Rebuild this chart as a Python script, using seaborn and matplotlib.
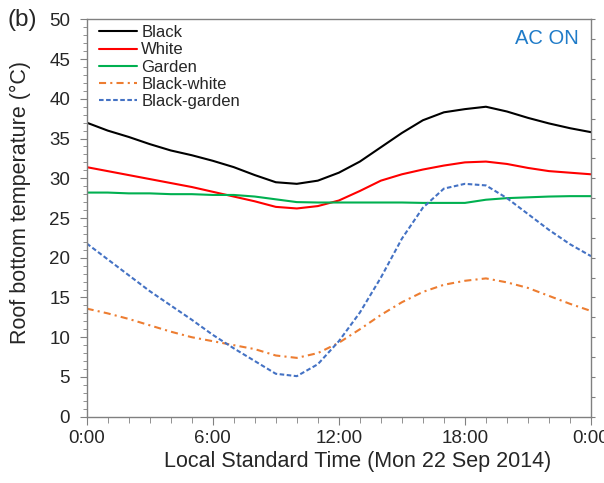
import seaborn as sns
import matplotlib.pyplot as plt
from matplotlib.ticker import MultipleLocator
import pandas as pd

# hours of the day (Mon 22 Sep 2014)
hours = list(range(0, 25))

black = [37.0, 36.0, 35.2, 34.3, 33.5, 32.9, 32.2, 31.4, 30.4, 29.5, 29.3, 29.7, 30.7,
         32.1, 33.9, 35.7, 37.3, 38.3, 38.7, 39.0, 38.4, 37.6, 36.9, 36.3, 35.8]
white = [31.4, 30.9, 30.4, 29.9, 29.4, 28.9, 28.3, 27.7, 27.1, 26.4, 26.2, 26.5, 27.2,
         28.4, 29.7, 30.5, 31.1, 31.6, 32.0, 32.1, 31.8, 31.3, 30.9, 30.7, 30.5]
garden = [28.2, 28.2, 28.1, 28.1, 28.0, 28.0, 27.9, 27.9, 27.7, 27.35, 27.0, 26.95, 26.95,
          26.95, 26.95, 26.95, 26.9, 26.9, 26.9, 27.3, 27.5, 27.6, 27.7, 27.75, 27.75]
black_white = [13.6, 13.0, 12.3, 11.5, 10.7, 10.0, 9.5, 9.0, 8.5, 7.7, 7.4, 8.0, 9.3,
               11.0, 12.8, 14.4, 15.7, 16.6, 17.1, 17.4, 16.9, 16.2, 15.2, 14.2, 13.3]
black_garden = [21.8, 19.8, 17.8, 15.8, 14.0, 12.2, 10.3, 8.6, 7.0, 5.4, 5.1, 6.6, 9.5,
                13.1, 17.5, 22.4, 26.3, 28.7, 29.3, 29.1, 27.5, 25.5, 23.5, 21.7, 20.2]

series_names = ["Black", "White", "Garden", "Black-white", "Black-garden"]
x_tick_labels = ["0:00", "6:00", "12:00", "18:00", "0:00"]

colors = {
    "Black": "#000000",
    "White": "#ff0000",
    "Garden": "#00b050",
    "Black-white": "#ed7d31",
    "Black-garden": "#4472c4",
}
dashes = {
    "Black": "",
    "White": "",
    "Garden": "",
    "Black-white": (3.4, 2.0, 1.0, 2.0),
    "Black-garden": (2.2, 1.2),
}

df = pd.DataFrame({"hour": hours * 5,
                   "temp": black + white + garden + black_white + black_garden,
                   "series": [n for n in series_names for _ in hours]})

sns.set_style("ticks")
plt.rcParams["font.family"] = ["Liberation Sans", "DejaVu Sans"]

GREY = "#808080"
fig = plt.figure(figsize=(6.04, 4.83), dpi=100)
ax = fig.add_axes([0.1435, 0.1373, 0.835, 0.8227])

sns.lineplot(data=df, x="hour", y="temp", hue="series", style="series",
             palette=colors, dashes=dashes, hue_order=series_names,
             style_order=series_names, linewidth=1.5, ax=ax)

ax.set_xlim(0, 24)
ax.set_ylim(0, 50)
ax.set_xticks([0, 6, 12, 18, 24])
ax.set_xticklabels(x_tick_labels)
ax.xaxis.set_minor_locator(MultipleLocator(1))
ax.yaxis.set_major_locator(MultipleLocator(5))
ax.yaxis.set_minor_locator(MultipleLocator(1))
ax.tick_params(axis="both", which="major", labelsize=13.5, color=GREY, direction="out")
ax.tick_params(axis="x", which="major", length=5.5, pad=4)
ax.tick_params(axis="x", which="minor", length=4.5, color=GREY, direction="out")
ax.tick_params(axis="y", which="major", length=5, pad=7)
ax.tick_params(axis="y", which="minor", length=3, color=GREY, direction="out")
for sp in ax.spines.values():
    sp.set_visible(True)
    sp.set_color(GREY)
    sp.set_linewidth(1.0)

# right axis ticks only
ax2 = ax.twinx()
ax2.set_ylim(0, 50)
ax2.yaxis.set_major_locator(MultipleLocator(2.5))
ax2.tick_params(axis="y", which="major", length=3, color=GREY, labelright=False)
for sp in ax2.spines.values():
    sp.set_visible(False)

ax.set_xlabel("Local Standard Time (Mon 22 Sep 2014)", fontsize=15.5)
ax.set_ylabel("Roof bottom temperature (°C)", fontsize=15.5)
ax.xaxis.set_label_coords(0.538, -0.087)
ax.yaxis.set_label_coords(-0.11, 0.538)

ax.legend(loc="upper left", bbox_to_anchor=(0.024, 0.985), frameon=False, fontsize=12,
          handlelength=2.3, handletextpad=0.25, labelspacing=0.13, borderpad=0,
          borderaxespad=0)

ax.text(0.976, 0.975, "AC ON", transform=ax.transAxes, ha="right", va="top",
        fontsize=14.5, color="#1f7bc8")
fig.text(0.012, 0.958, "(b)", ha="left", va="center", fontsize=17.5)

fig.savefig("out.png", dpi=100)
